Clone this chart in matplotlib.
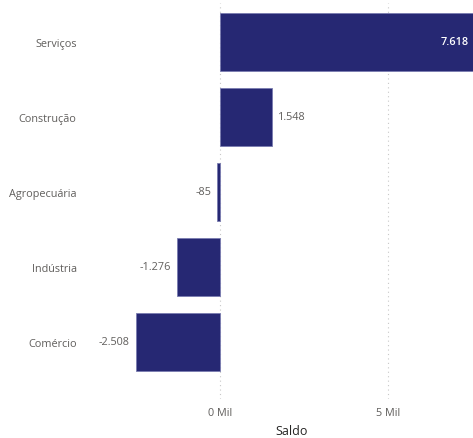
import matplotlib
matplotlib.use("Agg")
import matplotlib.pyplot as plt

categories = ["Serviços", "Construção", "Agropecuária", "Indústria", "Comércio"]
values = [7618, 1548, -85, -1276, -2508]
xticks = [0, 5000]
xtick_labels = ["0 Mil", "5 Mil"]
xlabel = "Saldo"

plt.rcParams['font.family'] = ['Open Sans', 'DejaVu Sans']

W, H = 473, 439
fig = plt.figure(figsize=(W / 100, H / 100), dpi=100)
left_px, right_px, top_px, bottom_px = 110, 473, 4, 400
ax = fig.add_axes([left_px / W, 1 - bottom_px / H, (right_px - left_px) / W, (bottom_px - top_px) / H])

bar_color = "#262873"
text_color = "#605E5C"

ypos = list(range(len(categories)))
ax.barh(ypos, values, height=0.77, color=bar_color, edgecolor="#7a7cb0", linewidth=0.6, zorder=3)

px_per_unit = 168 / 5000
ax.set_xlim((left_px - 220) / px_per_unit, (right_px - 220) / px_per_unit)
ax.set_ylim(len(categories) - 1 + 0.76, -0.52)

def fmt(v):
    s = f"{abs(v):,}".replace(",", ".")
    return ("-" if v < 0 else "") + s

xmax = ax.get_xlim()[1]
for y, v in zip(ypos, values):
    if v > xmax * 0.8:
        ax.text(xmax - 4 / px_per_unit, y, fmt(v), ha="right", va="center", color="white",
                fontsize=7.8, fontweight="semibold", zorder=4)
    elif v >= 0:
        ax.text(v + 170, y, fmt(v), ha="left", va="center", color=text_color, fontsize=7.8, zorder=4)
    else:
        ax.text(v - 170, y, fmt(v), ha="right", va="center", color=text_color, fontsize=7.8, zorder=4)

ax.set_yticks(ypos)
ax.set_yticklabels(categories, fontsize=7.8, color=text_color)
ax.set_xticks(xticks)
ax.set_xticklabels(xtick_labels, fontsize=7.8, color=text_color)
ax.tick_params(axis="both", length=0)
ax.tick_params(axis="y", pad=24)
ax.tick_params(axis="x", pad=6)
ax.set_xlabel(xlabel, fontsize=9, color="#252423", labelpad=4)

for s in ax.spines.values():
    s.set_visible(False)
ax.grid(axis="x", color="#c8c8c8", linestyle=(0, (1, 3)), linewidth=0.8, zorder=0)
ax.grid(axis="y", visible=False)

fig.savefig("out.png", dpi=100)
